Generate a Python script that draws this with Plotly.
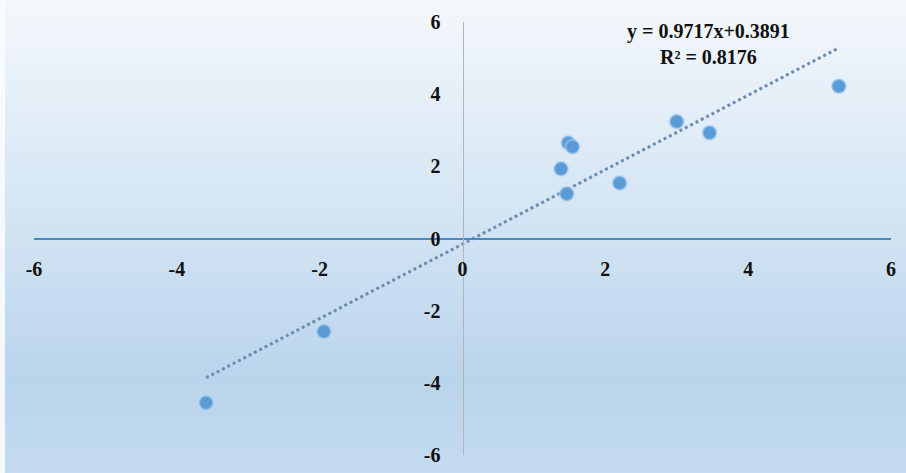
import numpy as np
import plotly.graph_objects as go

# Data
x_vals = [5.27, 3.46, 3.00, 2.20, 1.48, 1.54, 1.38, 1.46, -1.94, -3.59]
y_vals = [4.22, 2.93, 3.24, 1.54, 2.65, 2.54, 1.93, 1.24, -2.58, -4.55]
tick_vals = [-6, -4, -2, 0, 2, 4, 6]
tick_text = ["-6", "-4", "-2", "0", "2", "4", "6"]
eq_text = "y = 0.9717x+0.3891<br>R² = 0.8176"

# linear trend fitted from the points
slope, intercept = np.polyfit(x_vals, y_vals, 1)
tx = np.array([min(x_vals), max(x_vals)])
ty = slope * tx + intercept

W, H = 906, 473
ML, MR, MT, MB = 34, 15, 22, 18

fig = go.Figure()
fig.add_trace(go.Scatter(x=tx, y=ty, mode="lines",
                         line=dict(color="#6b8db2", width=3, dash="dot"),
                         hoverinfo="skip", showlegend=False))
fig.add_trace(go.Scatter(x=x_vals, y=y_vals, mode="markers",
                         marker=dict(size=14, color="#5b9bd5",
                                     line=dict(color="rgba(170,205,238,0.55)", width=2)),
                         showlegend=False))

# vertical gradient background as stripes (paper coordinates covering whole page)
stops = [(0.0, (245, 248, 252)), (0.45, (212, 229, 244)), (0.8, (186, 212, 236)), (1.0, (196, 219, 240))]
def col(t):
    for (a, ca), (b, cb) in zip(stops[:-1], stops[1:]):
        if a <= t <= b:
            f = (t - a) / (b - a)
            return tuple(int(round(ca[i] + f * (cb[i] - ca[i]))) for i in range(3))
    return stops[-1][1]

pw = W - ML - MR
ph = H - MT - MB
n = 95
shapes = []
top = 1 + MT / ph + 0.01
bot = -MB / ph - 0.01
left = -ML / pw - 0.01
right = 1 + MR / pw + 0.01
for i in range(n):
    t0 = i / n
    t1 = (i + 1) / n
    c = col((t0 + t1) / 2)
    y1 = top - t0 * (top - bot)
    y0 = top - t1 * (top - bot) - 0.002
    shapes.append(dict(type="rect", xref="paper", yref="paper", x0=left, x1=right,
                       y0=y0, y1=y1, fillcolor="rgb(%d,%d,%d)" % c,
                       line=dict(width=0), layer="below"))
# thin white strip at left edge
shapes.append(dict(type="rect", xref="paper", yref="paper", x0=left, x1=-ML / pw + 5 / pw,
                   y0=bot, y1=top, fillcolor="rgba(250,252,254,0.9)", line=dict(width=0), layer="below"))

tfont = dict(family="Liberation Serif", size=20, color="#111111", weight="bold")

fig.update_layout(
    width=W, height=H,
    margin=dict(l=ML, r=MR, t=MT, b=MB, pad=0, autoexpand=False),
    paper_bgcolor="#dfeaf6", plot_bgcolor="rgba(0,0,0,0)",
    shapes=shapes,
    xaxis=dict(range=[-6, 6], tickvals=tick_vals, ticktext=tick_text,
               showgrid=False, zeroline=False, showline=True, automargin=False,
               linecolor="#4a88c0", linewidth=1.5, anchor="free", position=0.5,
               ticks="", ticklabelstandoff=13, tickfont=tfont),
    yaxis=dict(range=[-6, 6], tickvals=tick_vals, ticktext=tick_text,
               showgrid=False, zeroline=False, showline=True, automargin=False,
               linecolor="#b4b4b4", linewidth=1, anchor="free", position=0.5,
               ticks="", ticklabelstandoff=18, tickfont=tfont),
    annotations=[dict(x=3.45, y=5.38, xref="x", yref="y", text=eq_text, showarrow=False,
                      align="center",
                      font=dict(family="Liberation Serif", size=20, color="#111111", weight="bold"))],
)

fig.write_html("out.html", config={"displayModeBar": False},
               post_script="document.body.style.margin='0px';")
